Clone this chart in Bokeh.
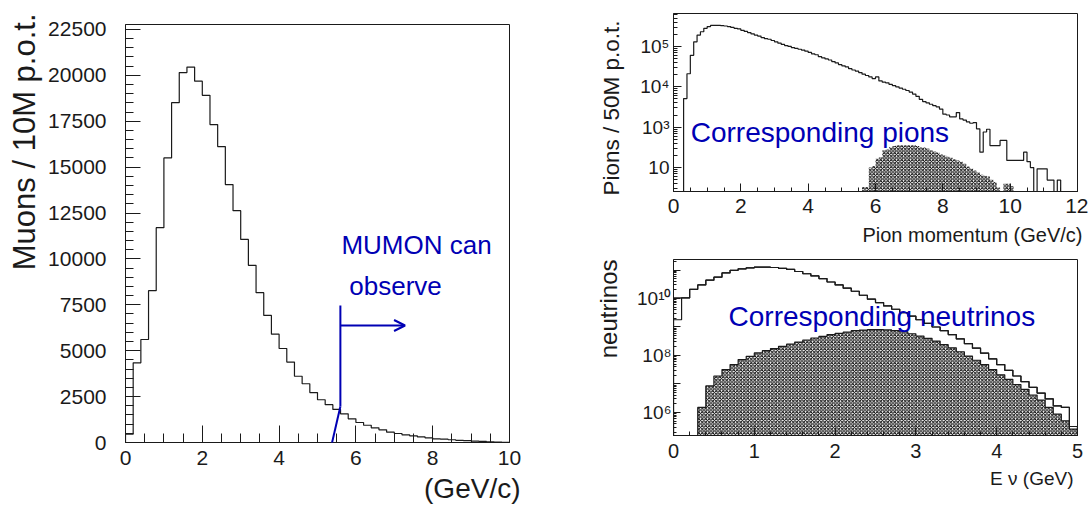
import math
import numpy as np
from bokeh.plotting import figure
from bokeh.models import Range1d, Label, Arrow, OpenHead, SingleIntervalTicker, FixedTicker, Title
from bokeh.layouts import row, column
from bokeh.embed import file_html
from bokeh.resources import INLINE

FONT = "Liberation Sans"
BLUE = "#0000b4"
INK = "#1a1a1a"

# ---------------- data ----------------
# Left: muon momentum, 50 bins of 0.2 GeV/c from 0 to 10
mu_bin_lo = 0.0
mu_bin_w = 0.2
mu_counts = [450, 4340, 5610, 8270, 11700, 15500, 18510, 20150, 20450, 19680,
             18910, 17320, 16120, 14050, 12630, 11060, 9650, 8160, 6920, 5900,
             5120, 4380, 3610, 3200, 2720, 2330, 2060, 1800, 1560, 1290,
             1090, 940, 800, 690, 560, 490, 420, 365, 310, 255,
             200, 180, 150, 120, 100, 80, 60, 40, 20, 10]

# Right top: pion momentum, 120 bins of 0.1 GeV/c from 0 to 12
pi_bin_lo = 0.0
pi_bin_w = 0.1
pion_all = [0, 0, 0, 5.1e3, 2.1e4, 6.0e4, 1.3e5, 1.9e5, 2.3e5, 2.8e5,
            3.1e5, 3.3e5, 3.3e5, 3.3e5, 3.25e5, 3.2e5, 3.1e5, 2.95e5, 2.8e5, 2.7e5,
            2.5e5, 2.35e5, 2.2e5, 2.05e5, 1.9e5, 1.8e5, 1.65e5, 1.55e5, 1.5e5, 1.4e5,
            1.3e5, 1.2e5, 1.12e5, 1.05e5, 1.0e5, 9.3e4, 8.9e4, 8.5e4, 8.1e4, 7.6e4,
            7.1e4, 6.5e4, 6.2e4, 5.6e4, 5.2e4, 4.9e4, 4.6e4, 4.2e4, 3.9e4, 3.55e4,
            3.3e4, 3.1e4, 2.8e4, 2.6e4, 2.45e4, 2.25e4, 2.05e4, 1.9e4, 1.75e4, 1.6e4,
            1.75e4, 1.4e4, 1.3e4, 1.25e4, 1.15e4, 1.07e4, 1.0e4, 9.3e3, 8.7e3, 8.1e3,
            7.4e3, 6.6e3, 5.8e3, 4.9e3, 4.3e3, 4.0e3, 3.7e3, 3.4e3, 3.2e3, 2.8e3,
            2.1e3, 2.0e3, 1.8e3, 1.8e3, 2.3e3, 1.6e3, 1.5e3, 1.35e3, 1.25e3, 1.3e3,
            910, 240, 760, 890, 350, 350, 350, 470, 470, 150,
            150, 150, 150, 150, 240, 140, 100, 0, 93, 93,
            93, 49, 49, 0, 49, 0, 0, 0, 0, 0]
pion_sel = [0, 0, 0, 0, 0, 0, 0, 0, 0, 0,
            0, 0, 0, 0, 0, 0, 0, 0, 0, 0,
            0, 0, 0, 0, 0, 0, 0, 0, 0, 0,
            0, 0, 0, 0, 0, 0, 0, 0, 0, 0,
            0, 0, 0, 0, 0, 0, 0, 0, 0, 0,
            0, 0, 0, 0, 0, 0, 33, 33, 100, 110,
            165, 180, 270, 280, 320, 340, 355, 355, 355, 355,
            355, 355, 340, 320, 315, 295, 270, 250, 235, 215,
            200, 185, 175, 160, 150, 140, 125, 107, 95, 85,
            76, 66, 63, 60, 50, 44, 32, 0, 40, 40,
            35, 0, 0, 0, 0, 0, 0, 0, 0, 0,
            0, 0, 0, 0, 0, 0, 0, 0, 0, 0]

# Right bottom: neutrino energy, 50 bins of 0.1 GeV from 0 to 5
nu_bin_lo = 0.0
nu_bin_w = 0.1
nu_all = [1.05e10, 1.05e10, 2.1e10, 3.0e10, 4.4e10, 5.6e10, 7.9e10, 9.8e10, 1.1e11, 1.2e11,
          1.26e11, 1.26e11, 1.23e11, 1.15e11, 1.05e11, 8.9e10, 7.4e10, 6.2e10, 5.0e10, 3.8e10,
          3.0e10, 2.3e10, 1.8e10, 1.3e10, 9.5e9, 7.2e9, 5.5e9, 4.2e9, 3.2e9, 2.4e9,
          1.8e9, 1.35e9, 1.0e9, 7.4e8, 5.4e8, 3.8e8, 2.6e8, 1.8e8, 1.2e8, 7.6e7,
          4.8e7, 3.0e7, 1.9e7, 1.2e7, 7.6e6, 4.8e6, 3.0e6, 1.7e6, 1.5e6, 3.2e5]
nu_all_first_bin_alt = 1.8e9
nu_sel = [0, 0, 0, 1.5e6, 8.5e6, 1.9e7, 3.2e7, 4.8e7, 7.2e7, 9.3e7,
          1.23e8, 1.48e8, 1.74e8, 2.1e8, 2.5e8, 2.95e8, 3.5e8, 4.1e8, 4.7e8, 5.4e8,
          6.0e8, 6.6e8, 7.4e8, 7.8e8, 8.1e8, 8.1e8, 7.9e8, 7.4e8, 6.8e8, 5.8e8,
          4.8e8, 4.0e8, 3.2e8, 2.4e8, 1.86e8, 1.35e8, 9.5e7, 6.8e7, 4.8e7, 3.2e7,
          2.1e7, 1.45e7, 9.5e6, 6.5e6, 4.1e6, 2.7e6, 1.5e6, 8.7e5, 5.1e5, 2.6e5]

# tick labels
rt_ytick_vals = [100, 1000, 10000, 100000]
rt_ytick_labels = ["10", "10\u00b3", "10\u2074", "10\u2075"]
rb_ytick_vals = [10**6, 10**7, 10**8, 10**9, 10**10, 10**11]
rb_ytick_labels = ["10\u2076", "", "10\u2078", "", "10\u00b9\u2070", ""]


# ---------------- helpers ----------------
def step_xy(lo, w, vals, floor):
    n = len(vals)
    edges = [lo + w * i for i in range(n + 1)]
    xs, ys = [edges[0]], [floor]
    for i, v in enumerate(vals):
        vv = v if v > 0 else floor
        xs += [edges[i], edges[i + 1]]
        ys += [vv, vv]
    xs.append(edges[-1])
    ys.append(floor)
    return xs, ys


class Geo:
    def __init__(self, W, H, fx0, fx1, fy0, fy1, xr, yr, ylog=False):
        self.W, self.H = W, H
        self.fx0, self.fx1, self.fy0, self.fy1 = fx0, fx1, fy0, fy1
        self.xr, self.yr, self.ylog = xr, yr, ylog

    def x(self, px):
        a, b = self.xr
        return a + (px - self.fx0) / (self.fx1 - self.fx0) * (b - a)

    def y(self, py):
        c, d = self.yr
        if self.ylog:
            lc, ld = math.log10(c), math.log10(d)
            return 10 ** (ld - (py - self.fy0) / (self.fy1 - self.fy0) * (ld - lc))
        return d - (py - self.fy0) / (self.fy1 - self.fy0) * (d - c)


def make_fig(g):
    p = figure(width=g.W, height=g.H, x_range=Range1d(*g.xr), y_range=Range1d(*g.yr),
               y_axis_type="log" if g.ylog else "linear",
               output_backend="svg", toolbar_location=None, title=None,
               min_border_left=g.fx0, min_border_right=g.W - g.fx1,
               min_border_top=g.fy0, min_border_bottom=g.H - g.fy1)
    p.xgrid.visible = False
    p.ygrid.visible = False
    p.outline_line_color = INK
    p.outline_line_width = 1
    p.background_fill_color = "white"
    p.border_fill_color = "white"
    return p


def style_axis(ax, size, standoff, tin, minin):
    ax.major_tick_in = tin
    ax.major_tick_out = 0
    ax.minor_tick_in = minin
    ax.minor_tick_out = 0
    ax.major_tick_line_color = INK
    ax.minor_tick_line_color = INK
    ax.axis_line_color = INK
    ax.major_label_text_font = FONT
    ax.major_label_text_font_size = size
    ax.major_label_text_color = INK
    ax.major_label_standoff = standoff


def add_text(p, g, px, py, text, size, color=INK, align="left", angle=0.0):
    p.add_layout(Label(x=g.x(px), y=g.y(py), text=text, text_font=FONT,
                       text_font_size=size, text_color=color, text_align=align,
                       text_baseline="alphabetic", angle=angle))


def add_title(p, side, text, size, offset, standoff):
    p.add_layout(Title(text=text, align="right", offset=offset, standoff=standoff,
                       text_font=FONT, text_font_size=size, text_font_style="normal",
                       text_color=INK), side)


# ---------------- left panel ----------------
gL = Geo(560, 507, 123, 509, 24, 442, (0, 10), (0, 22770))
pL = make_fig(gL)
pL.xaxis.ticker = SingleIntervalTicker(interval=2, num_minor_ticks=4)
pL.yaxis.ticker = SingleIntervalTicker(interval=2500, num_minor_ticks=5)
style_axis(pL.xaxis[0], "21px", 8, 17, 9)
style_axis(pL.yaxis[0], "21px", 19, 15, 8)
xs, ys = step_xy(mu_bin_lo, mu_bin_w, mu_counts, 0)
pL.line(xs, ys, line_color=INK, line_width=1.2)
add_title(pL, "left", "Muons / 10M p.o.t.", "31px", -11, 8)
add_title(pL, "below", "(GeV/c)", "28px", -11, 6)
add_text(pL, gL, 340, 244, "MUMON can", "26px", color=BLUE)
add_text(pL, gL, 348, 285, "observe", "26px", color=BLUE)
# MUMON threshold marker
pL.add_layout(Arrow(end=None, x_start=gL.x(339), y_start=gL.y(305), x_end=gL.x(339), y_end=gL.y(406),
                    line_color=BLUE, line_width=2))
pL.add_layout(Arrow(end=None, x_start=gL.x(339), y_start=gL.y(406), x_end=gL.x(329.5), y_end=gL.y(447),
                    line_color=BLUE, line_width=2))
pL.add_layout(Arrow(end=OpenHead(size=11, line_color=BLUE, line_width=2),
                    x_start=gL.x(339), y_start=gL.y(325), x_end=gL.x(404), y_end=gL.y(325),
                    line_color=BLUE, line_width=2))

# ---------------- right top panel ----------------
gT = Geo(528, 259, 111, 517, 13, 191, (0, 12), (10 ** 1.408, 10 ** 5.814), ylog=True)
pT = make_fig(gT)
pT.xaxis.ticker = SingleIntervalTicker(interval=2, num_minor_ticks=4)
pT.yaxis.ticker = FixedTicker(ticks=rt_ytick_vals,
                              minor_ticks=[k * 10 ** n for n in range(1, 6) for k in range(2, 10)])
pT.yaxis.major_label_overrides = dict(zip(rt_ytick_vals, rt_ytick_labels))
style_axis(pT.xaxis[0], "21px", 7, 8, 4)
style_axis(pT.yaxis[0], "19px", 4, 8, 4)
xs, ys = step_xy(pi_bin_lo, pi_bin_w, pion_sel, 1)
pT.patch(xs, ys, fill_color=None, line_color=None, hatch_pattern="diagonal_cross",
         hatch_color="#000000", hatch_scale=3.5, hatch_weight=1.0)
xs, ys = step_xy(pi_bin_lo, pi_bin_w, pion_all, 1)
pT.line(xs, ys, line_color=INK, line_width=1.2)
add_title(pT, "left", "Pions / 50M p.o.t.", "22.5px", 7, 27)
add_title(pT, "below", "Pion momentum (GeV/c)", "20px", -5, 12)
add_text(pT, gT, 128.3, 132, "Corresponding pions", "28px", color=BLUE)

# ---------------- right bottom panel ----------------
gB = Geo(528, 248, 113, 519, 0, 176, (0, 5), (10 ** 5.19, 10 ** 11.37), ylog=True)
pB = make_fig(gB)
pB.xaxis.ticker = SingleIntervalTicker(interval=1, num_minor_ticks=5)
pB.yaxis.ticker = FixedTicker(ticks=rb_ytick_vals,
                              minor_ticks=[k * 10 ** n for n in range(5, 12) for k in range(2, 10)])
pB.yaxis.major_label_overrides = dict(zip(rb_ytick_vals, rb_ytick_labels))
style_axis(pB.xaxis[0], "20px", 8, 8, 4)
style_axis(pB.yaxis[0], "19px", 2, 7, 3)
nu_alt = [nu_all_first_bin_alt] + nu_all[1:]
xs, ys = step_xy(nu_bin_lo, nu_bin_w, nu_alt, 1)
pB.line(xs, ys, line_color=INK, line_width=1.2)
xs, ys = step_xy(nu_bin_lo, nu_bin_w, nu_all, 1)
pB.line(xs, ys, line_color=INK, line_width=1.2)
xs, ys = step_xy(nu_bin_lo, nu_bin_w, nu_sel, 1)
pB.patch(xs, ys, fill_color=None, line_color=None, hatch_pattern="diagonal_cross",
         hatch_color="#000000", hatch_scale=3.5, hatch_weight=1.0)
pB.line(xs, ys, line_color=INK, line_width=1.2)
add_title(pB, "left", "neutrinos", "24px", 0, 25)
add_title(pB, "below", "E \u03bd (GeV)", "19px", 4, 11)
add_text(pB, gB, 168.3, 57, "Corresponding neutrinos", "28px", color=BLUE)

layout = row(pL, column(pT, pB))
open("out.html", "w").write(file_html(layout, INLINE))
